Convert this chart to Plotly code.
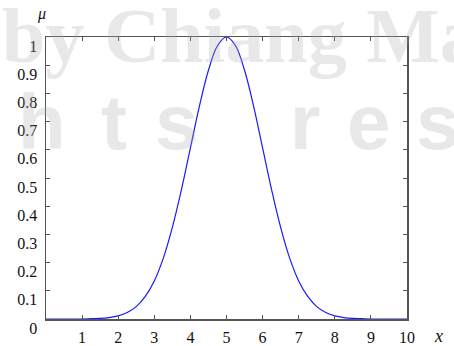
import plotly.graph_objects as go

# membership values (x step 0.25)
x_vals = [i * 0.25 for i in range(41)]
mu_vals = [0.000, 0.000, 0.000, 0.000, 0.000, 0.001, 0.002, 0.005, 0.011, 0.023,
           0.044, 0.080, 0.135, 0.216, 0.325, 0.458, 0.607, 0.755, 0.882, 0.969,
           1.000,
           0.969, 0.882, 0.755, 0.607, 0.458, 0.325, 0.216, 0.135, 0.080, 0.044,
           0.023, 0.011, 0.005, 0.002, 0.001, 0.000, 0.000, 0.000, 0.000, 0.000]

x_ticks = [1, 2, 3, 4, 5, 6, 7, 8, 9, 10]
y_ticks = [0, 0.1, 0.2, 0.3, 0.4, 0.5, 0.6, 0.7, 0.8, 0.9, 1]
y_tick_labels = ["0", "0.1", "0.2", "0.3", "0.4", "0.5", "0.6", "0.7", "0.8", "0.9", "1"]

SERIF = "Liberation Serif, Times New Roman, serif"
AX = "#555555"
WM = "rgba(170,170,170,0.27)"

fig = go.Figure()
fig.add_trace(go.Scatter(x=x_vals, y=mu_vals, mode="lines",
                         line=dict(color="#1a1aff", width=1.2, shape="spline"),
                         hoverinfo="skip", showlegend=False))

axis_common = dict(showline=True, linecolor=AX, linewidth=1.5, mirror="ticks",
                   ticks="inside", ticklen=4, tickcolor=AX, tickwidth=1,
                   showgrid=False, zeroline=False, automargin=False,
                   tickfont=dict(family=SERIF, size=16, color="#111111"))

fig.update_xaxes(range=[0, 10], tickvals=x_ticks, ticklabelstandoff=3, **axis_common)
fig.update_yaxes(range=[0, 1], tickvals=y_ticks, ticktext=y_tick_labels,
                 ticklabelshift=9, ticklabelstandoff=4, **axis_common)

W, H = 454, 346
L, R, T, B = 46, 47, 37, 27
pw, ph = W - L - R, H - T - B

def px(xp):
    return (xp - L) / pw

def py(yp):
    return (H - B - yp) / ph

annotations = [
    dict(text="<b>by Chiang Mai</b>", x=px(0), y=py(35), xref="paper", yref="paper",
         xanchor="left", yanchor="middle", showarrow=False,
         font=dict(family=SERIF, size=78, color=WM)),
]
for ch, cx in [("h", 42), ("t", 114), ("s", 176), ("r", 305), ("e", 368), ("s", 437)]:
    annotations.append(dict(text=ch, x=px(cx), y=py(122), xref="paper", yref="paper",
                            xanchor="center", yanchor="middle", showarrow=False,
                            font=dict(family="Liberation Sans, Arial, sans-serif",
                                      size=78, color=WM, weight="bold")))
annotations += [
    dict(text="<i>μ</i>", x=px(41), y=py(14), xref="paper", yref="paper",
         xanchor="center", yanchor="middle", showarrow=False,
         font=dict(family=SERIF, size=16, color="#111111")),
    dict(text="<i>x</i>", x=px(438), y=py(336), xref="paper", yref="paper",
         xanchor="center", yanchor="middle", showarrow=False,
         font=dict(family=SERIF, size=18, color="#111111")),
]

fig.update_layout(width=W, height=H, margin=dict(l=L, r=R, t=T, b=B),
                  paper_bgcolor="white", plot_bgcolor="white",
                  annotations=annotations, showlegend=False)

fig.write_html("out.html", config={"displayModeBar": False, "staticPlot": True},
               post_script="document.body.style.margin='0';document.body.style.overflow='hidden';")
